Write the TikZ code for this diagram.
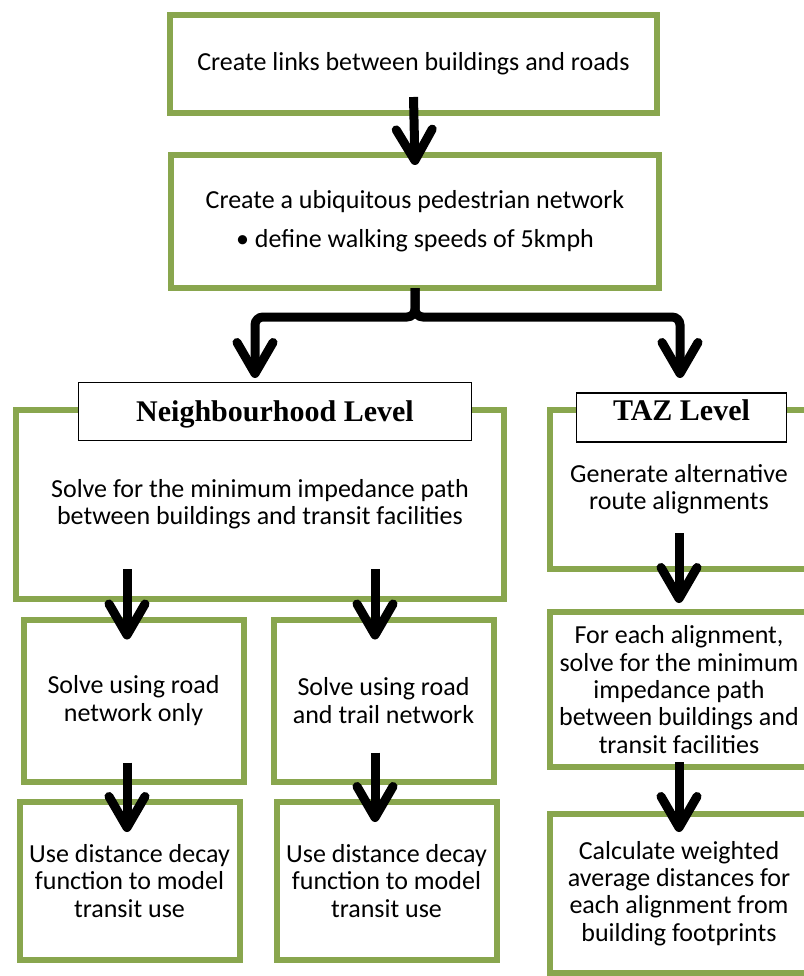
\documentclass[tikz,border=0pt]{standalone}
\usepackage{fontspec}
\setmainfont{Carlito}
\newfontfamily\lvlfont{Liberation Serif}
\usetikzlibrary{arrows.meta,shadows,calc}
\definecolor{boxgreen}{RGB}{137,166,78}
\begin{document}
\begin{tikzpicture}[x=1pt,y=-1pt,
  gbox/.style={draw=boxgreen, line width=6pt, fill=white, align=center, inner sep=0pt,
    font=\fontsize{26}{27.3}\selectfont,
    drop shadow={shadow xshift=2pt, shadow yshift=-3pt, opacity=0.3, fill=black!60}},
  lbox/.style={draw=black, line width=1.3pt, fill=white, inner sep=0pt,
    font=\lvlfont\bfseries\fontsize{30}{32}\selectfont},
  arr/.style={line width=9pt, -{Straight Barb[length=31pt,width=36pt,round]}},
]
\useasboundingbox (0,0) rectangle (803,976);
\fill[white] (0,0) rectangle (803,976);

% boxes
\node[gbox, minimum width=487pt, minimum height=98pt] (b1) at (413.5,64)
  {Create links between buildings and roads};
\node[gbox, minimum width=488pt, minimum height=133pt] (b2) at (415,221.5)
  {Create a ubiquitous pedestrian network\\[12pt] • define walking speeds of 5kmph};
\node[gbox, minimum width=488pt, minimum height=189pt] (nb) at (260,504.5)
  {Solve for the minimum impedance path\\between buildings and transit facilities};
\node[lbox, minimum width=393pt, minimum height=58pt, text height=19pt, text depth=0pt] (nbl) at (275,411.5)
  {Neighbourhood Level};
\node[gbox, minimum width=258pt, minimum height=159pt] (taz) at (679,489.5)
  {Generate alternative\\route alignments};
\node[lbox, minimum width=210pt, minimum height=49pt, text height=20pt, text depth=14pt] (tazl) at (681.5,417.5)
  {TAZ Level};
\node[gbox, minimum width=220pt, minimum height=162pt] (sa) at (133.5,700.5)
  {Solve using road\\network only};
\node[gbox, minimum width=220pt, minimum height=162pt] (sb) at (383.5,700.5)
  {Solve using road\\and trail network};
\node[gbox, minimum width=220pt, minimum height=158pt] (ua) at (129.5,881)
  {Use distance decay\\function to model\\transit use};
\node[gbox, minimum width=220pt, minimum height=158pt] (ub) at (386.5,881)
  {Use distance decay\\function to model\\transit use};
\node[gbox, minimum width=258pt, minimum height=155pt] (fe) at (679,689.5)
  {For each alignment,\\solve for the minimum\\impedance path\\between buildings and\\transit facilities};
\node[gbox, minimum width=258pt, minimum height=159pt] (ca) at (679,893.5)
  {Calculate weighted\\average distances for\\each alignment from\\building footprints};

% connectors
\coordinate (tipL) at (255,378);
\coordinate (tipR) at (680,378);
\draw[arr] ($(b1.south)+(0,-19)$) -- ($(b2.north)+(0,13)$);
\draw[arr, rounded corners=8pt] ($(b2.south)+(0,-3)$) -- ++(0,29) -| (tipL);
\draw[arr, rounded corners=8pt] ($(b2.south)+(0,-3)$) -- ++(0,29) -| (tipR);
\draw[arr] ($(nb.south -| sa.north)+(-6.5,-33)$) -- ($(sa.north)+(-6.5,23)$);
\draw[arr] ($(nb.south -| sb.north)+(-8.5,-33)$) -- ($(sb.north)+(-8.5,23)$);
\draw[arr] ($(sa.south)+(-6.5,-22)$) -- ($(ua.north -| sa.south)+(-6.5,33)$);
\draw[arr] ($(sb.south)+(-8.5,-32)$) -- ($(ub.north -| sb.south)+(-8.5,23)$);
\draw[arr] ($(taz.south)+(0,-39)$) -- ($(fe.north)+(0,-6)$);
\draw[arr] ($(fe.south)+(0,-8)$) -- ($(ca.north)+(0,21)$);
\end{tikzpicture}
\end{document}
